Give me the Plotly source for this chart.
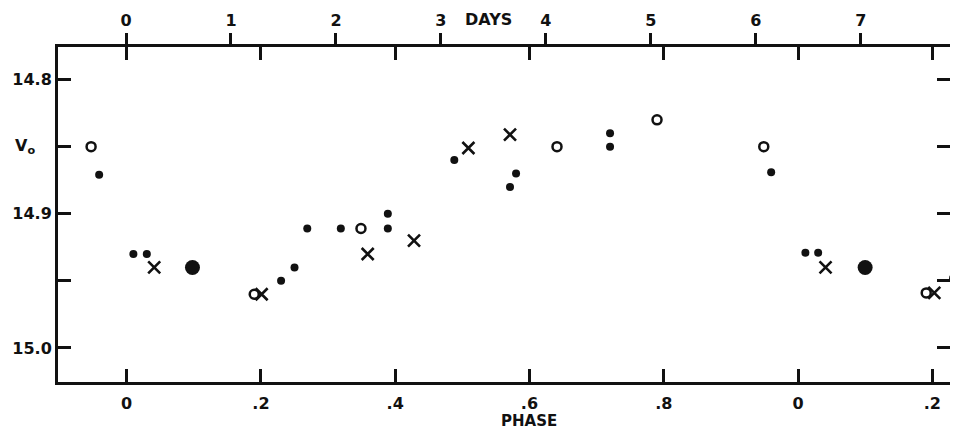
import plotly.graph_objects as go

# ---- data (phase, V0 magnitude) ----
dot_phase = [-0.041, 0.010, 0.030, 0.230, 0.250, 0.269, 0.319, 0.389, 0.389,
             0.488, 0.571, 0.580, 0.720, 0.720, 0.960, 1.011, 1.030, 1.231]
dot_mag = [14.871, 14.930, 14.930, 14.950, 14.940, 14.911, 14.911, 14.900, 14.911,
           14.860, 14.880, 14.870, 14.840, 14.850, 14.869, 14.929, 14.929, 14.948]

open_phase = [-0.053, 0.190, 0.349, 0.641, 0.790, 0.949, 1.191]
open_mag = [14.850, 14.960, 14.911, 14.850, 14.830, 14.850, 14.959]

cross_phase = [0.041, 0.201, 0.359, 0.428, 0.509, 0.571, 1.041, 1.203]
cross_mag = [14.940, 14.960, 14.930, 14.920, 14.851, 14.841, 14.940, 14.959]

big_phase = [0.098, 1.100]
big_mag = [14.940, 14.940]

phase_ticks = [0, 0.2, 0.4, 0.6, 0.8, 1.0, 1.2]
phase_labels = ["0", ".2", ".4", ".6", ".8", "0", ".2"]
day_ticks = [0, 1, 2, 3, 4, 5, 6, 7]
day_labels = ["0", "1", "2", "3", "4", "5", "6", "7"]
mag_ticks = [14.8, 14.85, 14.9, 14.95, 15.0]
mag_labels = ["14.8", " ", "14.9", " ", "15.0"]

phase_range = [-0.1023, 1.2264]
day_range = [-0.648, 7.850]
mag_range = [15.0254, 14.7757]

INK = "#111111"
FONT = dict(family="DejaVu Sans", size=16, color=INK, weight="bold")
TITLE_FONT = dict(family="DejaVu Sans", size=15, color=INK, weight="bold")

fig = go.Figure()
fig.add_trace(go.Scatter(x=dot_phase, y=dot_mag, mode="markers",
                         marker=dict(symbol="circle", size=8, color=INK)))
fig.add_trace(go.Scatter(x=open_phase, y=open_mag, mode="markers",
                         marker=dict(symbol="circle-open", size=9, color=INK,
                                     line=dict(width=2.5, color=INK))))
fig.add_trace(go.Scatter(x=cross_phase, y=cross_mag, mode="markers",
                         marker=dict(symbol="x-thin-open", size=12, color=INK,
                                     line=dict(width=2.6, color=INK))))
fig.add_trace(go.Scatter(x=big_phase, y=big_mag, mode="markers",
                         marker=dict(symbol="circle", size=15, color=INK)))
# invisible trace to activate top days axis
fig.add_trace(go.Scatter(x=day_ticks, y=[None] * len(day_ticks), xaxis="x2",
                         mode="markers", hoverinfo="skip"))

# page body has an 8px default margin, so the figure is sized to fit inside it
fig.update_layout(
    width=942, height=422,
    margin=dict(l=50, r=0, t=39, b=48, pad=0),
    paper_bgcolor="white", plot_bgcolor="white",
    showlegend=False,
    font=FONT,
    xaxis=dict(range=phase_range, tickvals=phase_ticks, ticktext=phase_labels,
               ticks="inside", ticklen=13, tickwidth=2.5, tickcolor=INK,
               showline=True, linewidth=3, linecolor=INK, mirror="ticks",
               showgrid=False, zeroline=False, tickfont=FONT,
               automargin=False, ticklabelstandoff=5),
    xaxis2=dict(range=day_range, overlaying="x", side="top", anchor="y",
                tickvals=day_ticks, ticktext=day_labels,
                ticks="outside", ticklen=13, tickwidth=2.5, tickcolor=INK,
                showline=False, showgrid=False, zeroline=False, tickfont=FONT,
                automargin=False, ticklabelstandoff=1),
    yaxis=dict(range=mag_range, tickvals=mag_ticks, ticktext=mag_labels,
               ticks="inside", ticklen=13, tickwidth=2.5, tickcolor=INK,
               showline=True, linewidth=3, linecolor=INK, mirror="ticks",
               showgrid=False, zeroline=False, tickfont=FONT,
               automargin=False),
    annotations=[
        dict(text="DAYS", xref="paper", yref="paper", x=(480 - 50) / 892, y=1,
             yshift=28, showarrow=False, font=FONT, xanchor="center", yanchor="middle"),
        dict(text="PHASE", xref="paper", yref="paper", x=(521 - 50) / 892, y=0,
             yshift=-39, showarrow=False, font=TITLE_FONT, xanchor="center",
             yanchor="middle"),
        dict(text="V<sub>o</sub>", xref="paper", yref="y", x=0, y=14.85,
             xanchor="right", xshift=-21, showarrow=False, font=FONT),
    ],
)

fig.write_html("out.html")
